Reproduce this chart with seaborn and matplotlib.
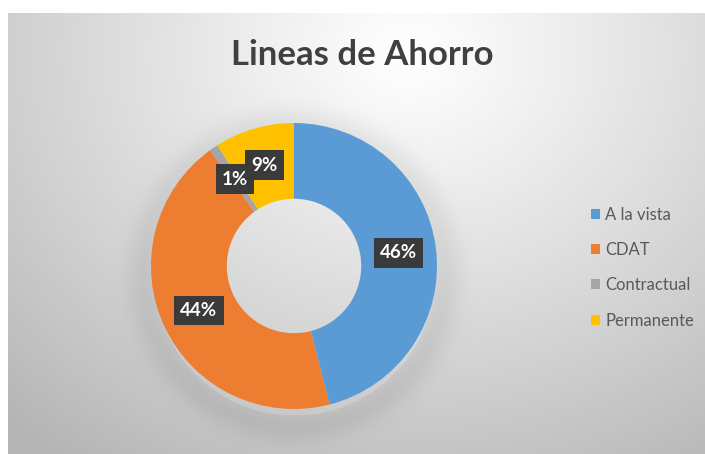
import numpy as np
import matplotlib
matplotlib.use("Agg")
import matplotlib.pyplot as plt
import seaborn as sns

categories = ["A la vista", "CDAT", "Contractual", "Permanente"]
values = [46, 44, 1, 9]
colors = ["#5B9BD5", "#ED7D31", "#A5A5A5", "#FFC000"]
title = "Lineas de Ahorro"

sns.set_style("white")
plt.rcParams["font.family"] = ["Lato", "DejaVu Sans"]

W, H = 705, 454
fig = plt.figure(figsize=(W / 100, H / 100), dpi=100)
fig.patch.set_facecolor("white")

# background gradient panel
x0, y0top = 8, 13
bg = fig.add_axes([x0 / W, 0, (W - x0) / W, (H - y0top) / H])
bg.set_axis_off()
yy, xx = np.mgrid[0:441, 0:697]
cx, cy = 400, 40
d = np.sqrt(((xx - cx) / 500.0) ** 2 + ((yy - cy) / 420.0) ** 2)
val = 1.0 - 0.24 * np.clip(d, 0, 1.2) ** 1.1
# soft shadow under donut
sx, sy = 294 - x0, 275 - y0top
ds = np.sqrt((xx - sx) ** 2 + (yy - sy) ** 2)
val -= 0.06 * np.exp(-((ds - 150) / 18.0) ** 2) * (ds > 140)
img = np.dstack([val, val, val])
bg.imshow(np.clip(img, 0, 1), aspect="auto", extent=[0, 1, 0, 1], origin="upper")
bg.set_xlim(0, 1)
bg.set_ylim(0, 1)

fig.text(362 / W, 1 - 55 / H, title, ha="center", va="center",
         fontsize=25, color="#404040", fontweight="bold")

# donut
pcx, pcy, r = 294, H - 266, 143
ax = fig.add_axes([(pcx - r) / W, (pcy - r) / H, 2 * r / W, 2 * r / H])
ax.set_axis_off()
wedges, texts, autotexts = ax.pie(
    values, colors=colors, startangle=90, counterclock=False, radius=1,
    wedgeprops=dict(width=0.53, edgecolor="none"),
    autopct=lambda p: f"{p:.0f}%", pctdistance=0.735,
)
for t in autotexts:
    t.set_color("white")
    t.set_fontsize(13.5)
    t.set_fontweight("bold")
    t.set_bbox(dict(boxstyle="square,pad=0.33", facecolor="#3a3a3a", edgecolor="none"))
ax.set_xlim(-1, 1)
ax.set_ylim(-1, 1)

leg = fig.legend(wedges, categories, loc="upper left",
                 bbox_to_anchor=(576 / W, 1 - 192 / H), frameon=False,
                 fontsize=12, handlelength=0.55, handleheight=0.55,
                 handletextpad=0.3, labelspacing=1.15)
for t in leg.get_texts():
    t.set_color("#595959")

fig.savefig("out.png", dpi=100)
